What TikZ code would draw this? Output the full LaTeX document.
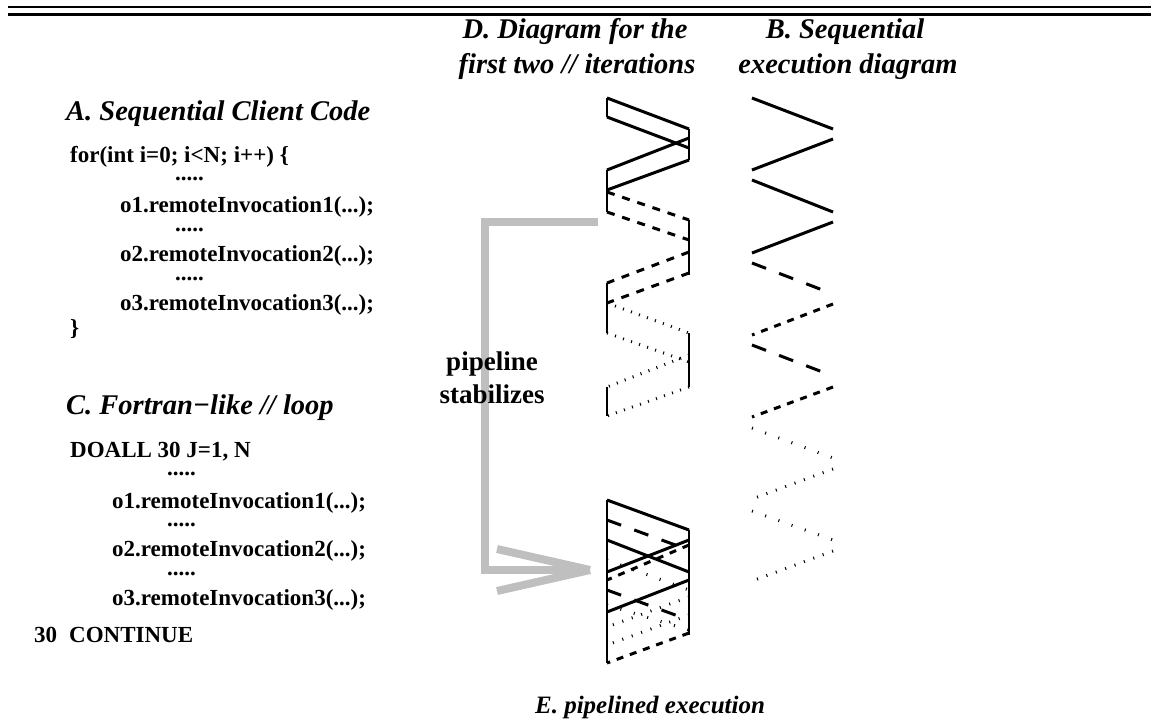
\documentclass[tikz,border=0pt]{standalone}
\usepackage{fontspec}
\setmainfont{Liberation Serif}
\usetikzlibrary{arrows.meta}
\begin{document}
\begin{tikzpicture}[x=1pt,y=-1pt,
  head/.style={font=\bfseries\itshape\fontsize{28.5}{32}\selectfont, inner sep=0pt},
  code/.style={font=\bfseries\fontsize{23}{26}\selectfont, inner sep=0pt, anchor=base west},
  dots/.style={font=\bfseries\fontsize{23}{26}\selectfont, inner sep=0pt, anchor=base west, text height=3pt, text depth=0pt},
  lbl/.style={font=\bfseries\fontsize{27}{30}\selectfont, inner sep=0pt, anchor=base},
  sol/.style={line width=3pt},
  ldash/.style={line width=3pt, dash pattern=on 15pt off 14pt},
  mdash/.style={line width=3pt, dash pattern=on 7pt off 7pt},
  sdot/.style={line width=3pt, dash pattern=on 1pt off 13pt},
  ddot/.style={line width=3pt, dash pattern=on 1pt off 9pt},
  dmd/.style={line width=3pt, dash pattern=on 8pt off 8pt},
  ddt/.style={line width=3pt, dash pattern=on 1pt off 7.5pt},
  bar/.style={line width=2.5pt},
  grayarrow/.style={line width=8pt, color=black!25}
]
\useasboundingbox (0,0) rectangle (1151,721);
% top rules
\draw[line width=2pt] (8,7) -- (1151,7);
\draw[line width=3.2pt] (8,14.2) -- (1151,14.2);

% gray arrow (behind the text)
\coordinate (gS) at (598,222);
\coordinate (gE) at (590,570);
\draw[grayarrow] (gS) -- (485,222) |- (gE);
\draw[grayarrow, line cap=butt] (gE) -- ++(-93,-21);
\draw[grayarrow, line cap=butt] (gE) -- ++(-93,21);

% headings
\node[head, anchor=base] (hD1) at (575,38) {D. Diagram for the};
\node[head, anchor=base] (hD2) at (577,73) {first two // iterations};
\node[head, anchor=base] (hB1) at (845,38) {B. Sequential};
\node[head, anchor=base] (hB2) at (848,73) {execution diagram};
\node[head, anchor=base west] (hA) at (66,120) {A. Sequential Client Code};
\node[head, anchor=base west] (hC) at (66,414) {C. Fortran−like // loop};
\node[head, anchor=base, font=\bfseries\itshape\fontsize{25}{28}\selectfont] (hE) at (650,713) {E. pipelined execution};

% code A
\node[code] (a1) at (70,162) {for(int i=0; i<N; i++) \{};
\node[dots] (a2) at (175,180) {.....};
\node[code] (a3) at (120,212) {o1.remoteInvocation1(...);};
\node[dots] (a4) at (175,231) {.....};
\node[code] (a5) at (120,261) {o2.remoteInvocation2(...);};
\node[dots] (a6) at (175,280) {.....};
\node[code] (a7) at (120,310) {o3.remoteInvocation3(...);};
\node[code] (a8) at (70,335) {\}};

% code C
\node[code] (c1) at (70,457) {DOALL 30 J=1, N};
\node[dots] (c2) at (167,475) {.....};
\node[code] (c3) at (112,508) {o1.remoteInvocation1(...);};
\node[dots] (c4) at (167,526) {.....};
\node[code] (c5) at (112,556) {o2.remoteInvocation2(...);};
\node[dots] (c6) at (167,575) {.....};
\node[code] (c7) at (112,605) {o3.remoteInvocation3(...);};
\node[code] (c8) at (34,642) {30\hspace{12pt}CONTINUE};

% pipeline label
\node[lbl] (p1) at (492,370) {pipeline};
\node[lbl] (p2) at (492,403) {stabilizes};

% D diagram
\def\L{607}\def\R{689}
\draw[bar] (\L,98) -- (\L,117);
\draw[bar] (\R,129) -- (\R,160);
\draw[bar] (\L,170) -- (\L,212);
\draw[bar] (\R,220) -- (\R,275);
\draw[bar] (\L,283) -- (\L,333);
\draw[bar] (\R,333) -- (\R,387);
\draw[bar] (\L,387) -- (\L,416);
\draw[sol] (\L,98) -- (\R,129);
\draw[sol] (\L,117) -- (\R,148);
\draw[sol] (\R,138) -- (\L,170);
\draw[sol] (\R,160) -- (\L,190);
\draw[dmd] (\L,192) -- (\R,220);
\draw[dmd] (\L,212) -- (\R,240);
\draw[dmd] (\R,252) -- (\L,283);
\draw[dmd] (\R,273) -- (\L,303);
\draw[ddt] (\L,303) -- (\R,333);
\draw[ddt] (\L,333) -- (\R,362);
\draw[ddt] (\R,355) -- (\L,387);
\draw[ddt] (\R,387) -- (\L,416);

% B diagram
\def\BL{752}\def\BR{833}
\draw[sol] (\BL,98) -- (\BR,129);
\draw[sol] (\BR,139) -- (\BL,170);
\draw[sol] (\BL,180) -- (\BR,212);
\draw[sol] (\BR,222) -- (\BL,253);
\draw[ldash] (\BL,263) -- (\BR,294);
\draw[mdash] (\BR,304) -- (\BL,335);
\draw[ldash] (\BL,345) -- (\BR,376);
\draw[mdash] (\BR,387) -- (\BL,417);
\draw[sdot] (\BL,428) -- (\BR,458);
\draw[ddot] (\BR,469) -- (\BL,499);
\draw[sdot] (\BL,511) -- (\BR,540);
\draw[ddot] (\BR,551) -- (\BL,581);

% E diagram
\draw[bar] (\L,500) -- (\L,663);
\draw[bar] (\R,530) -- (\R,635);
\draw[sol] (\L,500) -- (\R,530);
\draw[ldash] (\L,520) -- (\R,550);
\draw[sol] (\L,540) -- (\R,572);
\draw[sol] (\R,540) -- (\L,572);
\draw[mdash] (\R,545) -- (\L,580);
\draw[sdot] (\L,560) -- (\R,590);
\draw[sol] (\R,580) -- (\L,612);
\draw[ldash] (\L,590) -- (\R,620);
\draw[sdot] (\L,605) -- (\R,630);
\draw[ddot] (\R,597) -- (\L,627);
\draw[ddot] (\R,615) -- (\L,645);
\draw[mdash] (\R,633) -- (\L,663);
\end{tikzpicture}
\end{document}
